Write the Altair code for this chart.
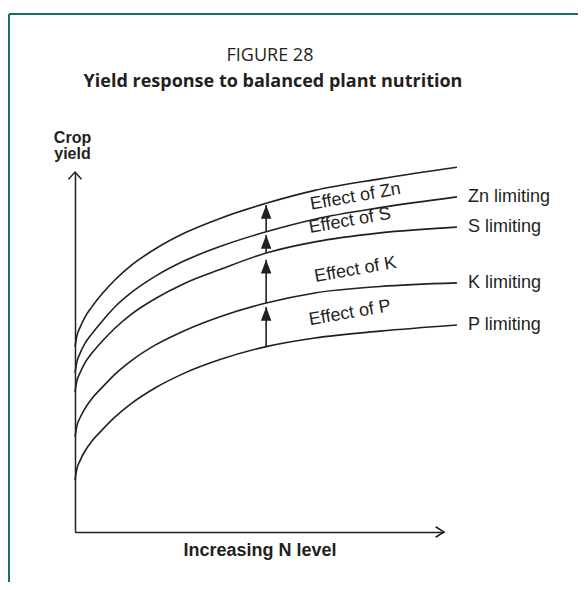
import altair as alt
import pandas as pd

# ---- data (arbitrary units 0-100) ----
n_level = [0, 0.5, 1.4, 2.7, 4.6, 7.3, 10.8, 15.4, 21.7, 29.8, 39.3, 51.8, 65, 82.7, 103.5]
yield_balanced = [51.4, 54.4, 56.9, 59.7, 62.6, 66.1, 70.0, 74.2, 78.6, 83.1, 87.1, 91.3, 94.9, 98.1, 101.3]
yield_zn_limiting = [44.2, 47.2, 49.7, 52.4, 55.1, 58.5, 62.5, 66.6, 71.0, 75.4, 79.3, 83.4, 86.9, 90.1, 93.1]
yield_s_limiting = [38.9, 41.9, 44.3, 47.0, 49.7, 52.9, 56.6, 60.6, 64.8, 69.1, 72.9, 77.5, 80.6, 83.1, 84.7]
yield_k_limiting = [26.4, 29.4, 31.8, 34.3, 37.1, 40.1, 43.8, 47.7, 51.9, 56.0, 59.8, 63.6, 66.4, 68.2, 69.2]
yield_p_limiting = [14.4, 17.5, 19.9, 22.5, 25.3, 28.3, 31.9, 35.8, 40.0, 44.2, 47.9, 51.5, 53.9, 55.8, 57.5]

series_names = ["Balanced", "Zn limiting", "S limiting", "K limiting", "P limiting"]
end_labels = ["", "Zn limiting", "S limiting", "K limiting", "P limiting"]
end_label_n = 106.5

effect_labels = ["Effect of Zn", "Effect of S", "Effect of K", "Effect of P"]
effect_n = [76, 74.5, 76, 74.5]
effect_yield = [93.1, 86.4, 72.8, 60.8]

arrow_n = 51.8
arrow_from = ["Zn limiting", "S limiting", "K limiting", "P limiting"]
arrow_tip = [90.8, 82.5, 75.6, 62.5]

title_lines = ["FIGURE 28", "Yield response to balanced plant nutrition"]
x_title = "Increasing N level"
y_title = ["Crop", "yield"]

# ---- build tables ----
all_series = [yield_balanced, yield_zn_limiting, yield_s_limiting,
              yield_k_limiting, yield_p_limiting]
rows = []
for name, vals in zip(series_names, all_series):
    for n, v in zip(n_level, vals):
        rows.append({"series": name, "n": n, "yield": v})
curves = pd.DataFrame(rows)

ends = pd.DataFrame({
    "label": end_labels,
    "n": [end_label_n] * len(series_names),
    "yield": [vals[-1] for vals in all_series],
})
ends = ends[ends["label"] != ""]

effects = pd.DataFrame({"label": effect_labels, "n": effect_n, "yield": effect_yield})

idx = n_level.index(arrow_n)
series_lookup = dict(zip(series_names, all_series))
arrows = pd.DataFrame({
    "n": [arrow_n] * len(arrow_from),
    "yield": [series_lookup[s][idx] for s in arrow_from],
    "tip": arrow_tip,
})

axis_ends = pd.DataFrame({"n": [0, 100], "yield": [100, 0], "which": ["y", "x"]})

INK = "#231f20"
TEAL = "#16706a"
SANS = "Liberation Sans, Arial, sans-serif"
TITLE_FONT = "Open Sans, Noto Sans, sans-serif"

xs = alt.Scale(domain=[0, 100], nice=False, zero=False)
ys = alt.Scale(domain=[0, 100], nice=False, zero=False)
X = alt.X("n:Q", scale=xs, axis=alt.Axis(
    title=x_title, titleFont=SANS, titleFontSize=18,
    titleFontWeight="bold", titleColor=INK, titlePadding=9,
    domain=True, domainColor=INK, domainWidth=1.5,
    ticks=False, labels=False, grid=False))
Y = alt.Y("yield:Q", scale=ys, axis=alt.Axis(
    title=y_title, titleFont=SANS, titleFontSize=16,
    titleFontWeight="bold", titleColor=INK, titleAngle=0,
    titleAlign="center", titleBaseline="alphabetic", titleX=-3, titleY=-30,
    titleLineHeight=16,
    domain=True, domainColor=INK, domainWidth=1.5,
    ticks=False, labels=False, grid=False))

lines = alt.Chart(curves).mark_line(
    color=INK, strokeWidth=1.6, interpolate="monotone", clip=False
).encode(x=X, y=Y, detail="series:N")

end_text = alt.Chart(ends).mark_text(
    align="left", baseline="middle", font=SANS, fontSize=18, color=INK
).encode(x=X, y=Y, text="label:N")

effect_text = alt.Chart(effects).mark_text(
    align="center", baseline="middle", font=SANS, fontSize=18, color=INK,
    angle=350
).encode(x=X, y=Y, text="label:N")

shafts = alt.Chart(arrows).mark_rule(color=INK, strokeWidth=1.6).encode(
    x=X, y=Y, y2="tip:Q")

heads = alt.Chart(arrows).mark_point(
    shape="M 0 0 L -1 2.6 L 1 2.6 Z", size=110, filled=True, opacity=1,
    color=INK, strokeWidth=0
).encode(x=X, y=alt.Y("tip:Q", scale=ys))

y_head = alt.Chart(axis_ends).transform_filter(alt.datum.which == "y").mark_point(
    shape="M -1 1.1 L 0 0 L 1 1.1", size=169, filled=False, opacity=1,
    color=INK, strokeWidth=1.5
).encode(x=X, y=Y)

x_head = alt.Chart(axis_ends).transform_filter(alt.datum.which == "x").mark_point(
    shape="M -1.6 -1 L 0 0 L -1.6 1", size=110, filled=False, opacity=1,
    color=INK, strokeWidth=1.5
).encode(x=X, y=Y)

frame_df = pd.DataFrame({"side": ["top"]})
frame_top = alt.Chart(frame_df).mark_rule(color=TEAL, strokeWidth=2).encode(
    x=alt.value(-66), x2=alt.value(503), y=alt.value(-158))
frame_left = alt.Chart(frame_df).mark_rule(color=TEAL, strokeWidth=2).encode(
    x=alt.value(-66), y=alt.value(-158), y2=alt.value(410))

title_df = pd.DataFrame({"line": title_lines})
fig_label = alt.Chart(title_df).transform_filter(
    alt.datum.line == title_lines[0]).mark_text(
    font=TITLE_FONT, fontSize=18, fontWeight="normal", color=INK,
    align="center", baseline="middle"
).encode(x=alt.value(195), y=alt.value(-116), text="line:N")
fig_title = alt.Chart(title_df).transform_filter(
    alt.datum.line == title_lines[1]).mark_text(
    font=TITLE_FONT, fontSize=18, fontWeight="bold", color=INK,
    align="center", baseline="middle"
).encode(x=alt.value(198), y=alt.value(-90), text="line:N")

chart = alt.layer(
    frame_top, frame_left, fig_label, fig_title,
    lines, shafts, heads, y_head, x_head, end_text, effect_text
).properties(
    width=369, height=360,
    padding={"left": 67, "top": 164, "right": 134, "bottom": 50},
    autosize="none",
).configure(background="white").configure_view(stroke="transparent", strokeWidth=0)

chart.save("out.html", embed_options={"renderer": "svg", "actions": False})
